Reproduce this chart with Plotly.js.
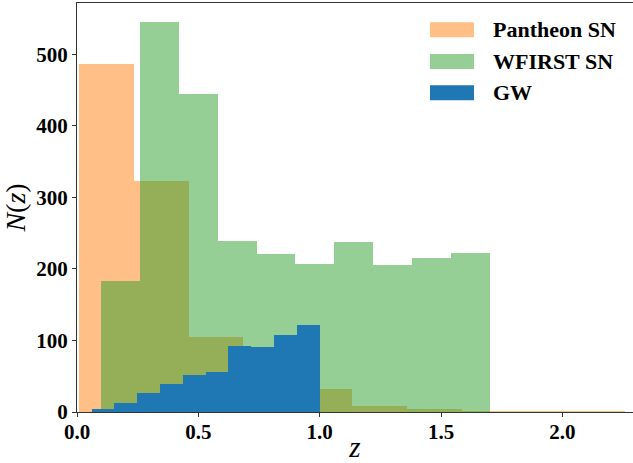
<!DOCTYPE html>
<html>
<head>
<meta charset="utf-8">
<script src="https://cdn.plot.ly/plotly-3.0.1.min.js"></script>
<style>html,body{margin:0;padding:0;background:#fff;}#chart{width:633px;height:463px;}</style>
</head>
<body>
<div id="chart"></div>
<script>
// ---- data ----
var seriesNames = ["Pantheon SN", "WFIRST SN", "GW"];

var pantheonLeft = [0.01, 0.235, 0.46, 0.685, 0.91, 1.135, 1.36, 1.585, 1.81, 2.035];
var pantheonWidth = 0.225;
var pantheonCounts = [487, 323, 105, 85, 32, 8, 4, 2, 1, 1];

var wfirstLeft = [0.10, 0.26, 0.42, 0.58, 0.74, 0.90, 1.06, 1.22, 1.38, 1.54];
var wfirstWidth = 0.16;
var wfirstCounts = [183, 546, 445, 239, 221, 207, 238, 206, 215, 222];

var gwLeft = [0.06, 0.154, 0.248, 0.342, 0.436, 0.53, 0.624, 0.718, 0.812, 0.906];
var gwWidth = 0.094;
var gwCounts = [4, 13, 27, 39, 52, 56, 93, 91, 107, 121];

var xTickVals = [0, 0.5, 1.0, 1.5, 2.0];
var xTickText = ["0.0", "0.5", "1.0", "1.5", "2.0"];
var yTickVals = [0, 100, 200, 300, 400, 500];
var yTickText = ["0", "100", "200", "300", "400", "500"];

// ---- styles ----
var colors = ["rgba(255,127,14,0.5)", "rgba(44,160,44,0.5)", "rgb(31,119,180)"];
var serif = "Liberation Serif, Times New Roman, serif";

function histTrace(left, width, counts, name, color) {
  return {
    type: "bar",
    x: left,
    y: counts,
    width: left.map(function () { return width; }),
    offset: 0,
    name: name,
    marker: { color: color, line: { width: 0 } },
    showlegend: false,
    hoverinfo: "skip"
  };
}

var data = [
  histTrace(pantheonLeft, pantheonWidth, pantheonCounts, seriesNames[0], colors[0]),
  histTrace(wfirstLeft, wfirstWidth, wfirstCounts, seriesNames[1], colors[1]),
  histTrace(gwLeft, gwWidth, gwCounts, seriesNames[2], colors[2])
];

// legend drawn as paper-anchored swatches + text
var legendRows = [0.9345, 0.857, 0.7804];
var shapes = [], annotations = [];
seriesNames.forEach(function (nm, i) {
  var yc = legendRows[i];
  shapes.push({
    type: "rect", xref: "paper", yref: "paper",
    x0: 0.6349, x1: 0.714, y0: yc - 0.0184, y1: yc + 0.0184,
    fillcolor: colors[i], line: { width: 0 }
  });
  annotations.push({
    xref: "paper", yref: "paper", x: 0.7440, y: yc,
    xanchor: "left", yanchor: "middle", showarrow: false,
    text: nm,
    font: { family: serif, size: 22, color: "#000", weight: "bold" }
  });
});

var layout = {
  width: 633, height: 463,
  margin: { l: 77, r: 0, t: 3, b: 51, pad: 0 },
  paper_bgcolor: "#fff", plot_bgcolor: "#fff",
  barmode: "overlay",
  bargap: 0,
  showlegend: false,
  xaxis: {
    range: [0, 2.291],
    tickvals: xTickVals, ticktext: xTickText,
    ticks: "outside", ticklen: 4, tickwidth: 1, tickcolor: "#333",
    showline: true, linecolor: "#333", linewidth: 1, mirror: true,
    showgrid: false, zeroline: false,
    ticklabelstandoff: -3,
    tickfont: { family: serif, size: 21, color: "#000", weight: "bold" },
    title: { text: "<i>z</i>", font: { family: serif, size: 29, color: "#000" }, standoff: 2 }
  },
  yaxis: {
    range: [0, 572],
    tickvals: yTickVals, ticktext: yTickText,
    ticks: "outside", ticklen: 4, tickwidth: 1, tickcolor: "#333",
    showline: true, linecolor: "#333", linewidth: 1,
    showgrid: false, zeroline: false,
    tickfont: { family: serif, size: 21, color: "#000", weight: "bold" },
    title: { text: "<i>N</i>(<i>z</i>)", font: { family: serif, size: 28, color: "#000" }, standoff: 8 }
  },
  shapes: shapes,
  annotations: annotations
};

Plotly.newPlot("chart", data, layout, { displayModeBar: false, staticPlot: true });
</script>
</body>
</html>
